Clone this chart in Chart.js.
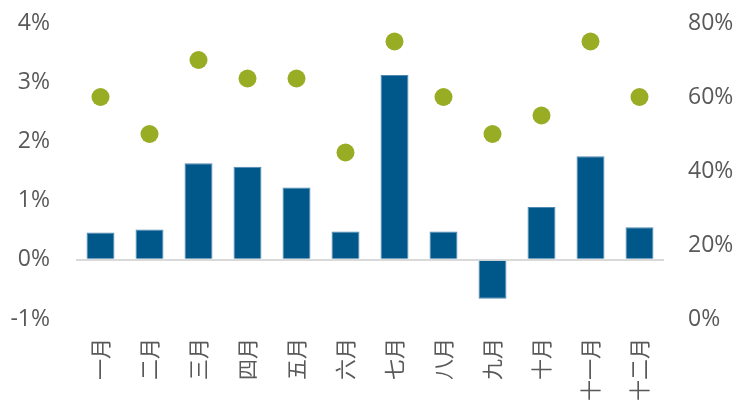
<!DOCTYPE html>
<html>
<head>
<meta charset="utf-8">
<script src="https://cdn.jsdelivr.net/npm/chart.js@4"></script>
<style>
  body { margin: 0; background: #fff; }
  #wrap { width: 741px; height: 405px; }
</style>
</head>
<body>
<div id="wrap"><canvas id="myChart"></canvas></div>
<script>
// monthly figures
const months = ['一月', '二月', '三月', '四月', '五月', '六月', '七月', '八月', '九月', '十月', '十一月', '十二月'];
const barValues = [0.46, 0.51, 1.63, 1.57, 1.22, 0.48, 3.12, 0.48, -0.66, 0.89, 1.75, 0.55];
const dotValues = [60, 50, 70, 65, 65, 45, 75, 60, 50, 55, 75, 60];

const textColor = '#595959';
const font = { family: "'Open Sans', 'Noto Sans CJK SC', sans-serif", size: 23 };
const catFont = { family: "'Noto Sans CJK SC', sans-serif", size: 21 };
const clear = 'rgba(0,0,0,0)';

const data = {
    labels: months,
    datasets: [{
        type: 'line',
        data: dotValues,
        yAxisID: 'y1',
        showLine: false,
        pointRadius: 9,
        pointHoverRadius: 9,
        pointBackgroundColor: '#98ac24',
        pointBorderWidth: 0,
        borderColor: '#98ac24'
    }, {
        type: 'bar',
        data: barValues,
        yAxisID: 'y',
        backgroundColor: '#00578a',
        borderColor: '#4f88b0',
        borderWidth: 1,
        barPercentage: 0.57,
        categoryPercentage: 1.0
    }]
};

const config = {
    type: 'bar',
    data: data,
    options: {
        responsive: true,
        maintainAspectRatio: false,
        animation: false,
        layout: { padding: { top: 23, left: 0, right: 0, bottom: 0 } },
        plugins: { legend: { display: false }, tooltip: { enabled: false } },
        scales: {
            x: {
                grid: { display: false },
                border: { display: false },
                afterFit: (scale) => { scale.height = 86; },
                ticks: {
                    color: textColor,
                    font: catFont,
                    minRotation: 90,
                    maxRotation: 90,
                    padding: 11
                }
            },
            y: {
                position: 'left',
                min: -1,
                max: 4,
                border: { display: false },
                afterFit: (scale) => { scale.width = 76; },
                grid: {
                    // invisible tick marks stand in for the label gap
                    tickLength: 26,
                    tickColor: clear,
                    lineWidth: 2,
                    color: (ctx) => ctx.tick && ctx.tick.value === 0 ? '#d9d9d9' : clear
                },
                ticks: {
                    stepSize: 1,
                    color: textColor,
                    font: font,
                    padding: 0,
                    callback: (v) => v + '%'
                }
            },
            y1: {
                position: 'right',
                min: 0,
                max: 80,
                border: { display: false },
                afterFit: (scale) => { scale.width = 77; },
                grid: { color: clear, tickColor: clear, tickLength: 24, drawOnChartArea: false },
                ticks: {
                    stepSize: 20,
                    color: textColor,
                    font: font,
                    padding: 0,
                    callback: (v) => v + '%'
                }
            }
        }
    }
};

const myChart = new Chart(document.getElementById('myChart'), config);
</script>
</body>
</html>
